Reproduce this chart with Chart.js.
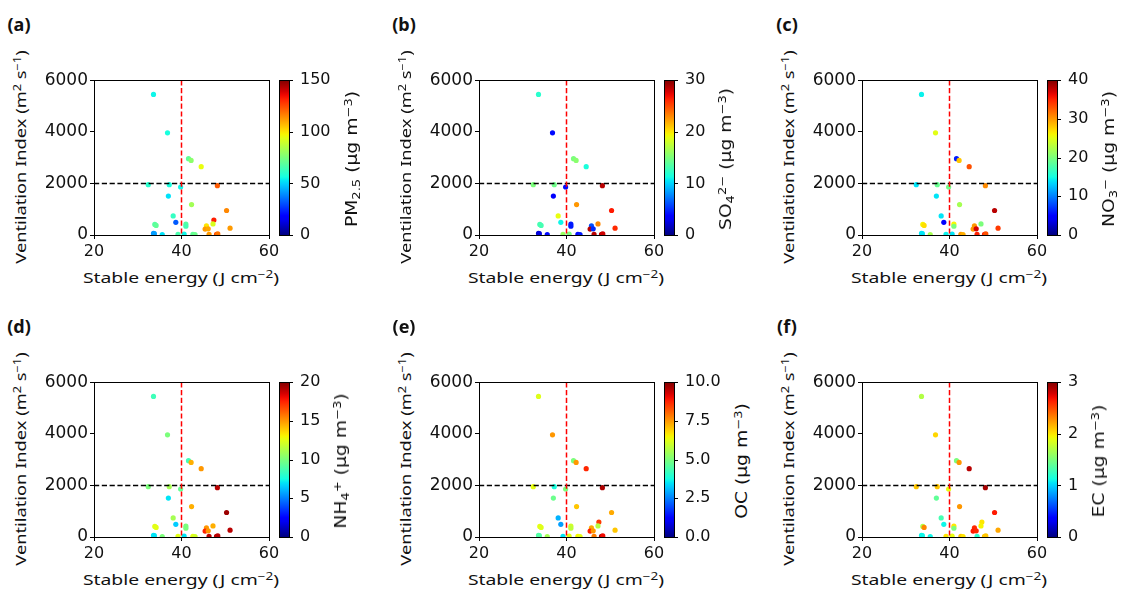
<!DOCTYPE html>
<html>
<head>
<meta charset="utf-8">
<script src="https://cdn.jsdelivr.net/npm/chart.js@4.4.1/dist/chart.umd.min.js"></script>
<style>
  html, body { margin: 0; padding: 0; background: #fff; overflow: hidden; }
  #fig { position: relative; width: 1124px; height: 594px; }
  #fig canvas { position: absolute; }
  .lbl { position: absolute; white-space: nowrap; line-height: 1; color: #111; }
  .lbl sup { font-size: 0.7em; vertical-align: 0.5em; line-height: 0; }
  .lbl sub { font-size: 0.7em; vertical-align: -0.25em; line-height: 0; }
</style>
</head>
<body>
<div id="fig"></div>
<script>
// one entry per day: stable energy (J cm-2) and ventilation index (m2 s-1)
var energy = [33.6, 36.8, 41.6, 42.2, 44.5, 32.4, 37.2, 39.8, 48.2, 37.0, 42.3, 50.3, 38.1, 47.4, 38.7, 33.9, 34.2,
              41.0, 41.0, 45.7, 47.2, 45.4, 46.1, 51.1, 33.6, 33.8, 35.6, 39.2, 40.6, 42.6, 43.1, 46.3, 48.0, 48.3];
var ventIndex = [5450, 3960, 2960, 2890, 2650, 1950, 1950, 1860, 1910, 1510, 1180, 950, 740, 580, 490, 410, 370,
                 420, 340, 350, 430, 230, 240, 265, 60, 50, 20, 30, 35, 30, 20, 30, 30, 40];

// concentrations (ug m-3), null = missing
var pm25 = [55, 57, 70, 78, 95, 60, 57, 55, 122, 52, 82, 115, 62, 132, 32, 68, 70,
            68, 65, 100, 92, 112, 110, 112, 40, 42, 52, 66, 55, 70, 72, 112, 125, 118];
var so4 = [12, 4, 15, 15.5, 11.5, 15, 14.5, 4, 28.5, 3.5, 22.5, 26.5, 19, null, 11, 13, 13,
           4.5, 4.5, 6, 23, 28.5, 5, 26, 2, 2.5, 4, 16, 15, 4, 4.5, 28.5, 28.5, 28];
var no3 = [14.5, 25, 6, 28, 33, 14, 19, 19.5, 30.5, 14, 22, 38, 14, null, 5, 26, 27,
           26, 20, 30, 20, 30, 37, 34, 14, 14, 22, 14.5, 14, 30, 29, 35, 35, 33];
var nh4 = [8.5, 10, 8.5, 14.5, 15, 10, 11, 9.5, 19, 7, 14.5, 19.5, 11, null, 6.5, 12.5, 12.5,
           10, 10, 15, 14.5, 17.5, 15, 19, 7, 7, 10, 12.5, 7, 12.5, 12, 19, 19, 19];
var oc = [6.2, 7.5, 5, 7.5, 8.7, 6.3, 3.8, 5, 9.6, 4.8, 7, 7.3, 3, 8.5, 2.8, 6.3, 6.2,
          6, 5.8, 7.3, 5.7, 8.8, 7.5, 7, 4.5, 4.5, 5.5, 3.5, 6.3, 6.5, 6.3, 7.8, 9.7, 9];
var ec = [1.7, 2.05, 1.5, 2.25, 2.85, 2.1, 2.1, 1.9, 2.9, 1.4, 2.25, 2.65, 1.3, 2.0, 1.1, 1.7, 2.3,
          2.0, 1.5, 2.6, 1.95, 2.65, 2.6, 2.2, 1.1, 1.1, 1.1, 2.0, 1.9, 2.1, 2.0, 1.2, 2.1, 2.1];

var species = [pm25, so4, no3, nh4, oc, ec];
var panelLetters = ['(a)', '(b)', '(c)', '(d)', '(e)', '(f)'];
var cbLabels = ['PM<sub>2.5</sub> (μg m<sup>−3</sup>)', 'SO<sub>4</sub><sup>2−</sup> (μg m<sup>−3</sup>)',
                'NO<sub>3</sub><sup>−</sup> (μg m<sup>−3</sup>)', 'NH<sub>4</sub><sup>+</sup> (μg m<sup>−3</sup>)',
                'OC (μg m<sup>−3</sup>)', 'EC (μg m<sup>−3</sup>)'];
var cbMax = [150, 30, 40, 20, 10, 3];
var cbStep = [50, 10, 10, 5, 2.5, 1];
var cbDecimals = [0, 0, 0, 0, 1, 0];
var xRange = [20, 60], xStep = 20;
var yRange = [0, 6000], yStep = 2000;
var refEnergy = 40, refVent = 2000;

var colLeft = [94, 479, 862];
var rowTop = [80, 382];
var tickFont = { family: 'DejaVu Sans', size: 16 };
var yTickFont = { family: 'DejaVu Sans', size: 17 };
var fig = document.getElementById('fig');

// matplotlib jet colormap
function jet(t) {
  t = Math.min(1, Math.max(0, t));
  function seg(p) {
    for (var i = 1; i < p.length; i++) {
      if (t <= p[i][0]) return p[i - 1][1] + (p[i][1] - p[i - 1][1]) * (t - p[i - 1][0]) / (p[i][0] - p[i - 1][0]);
    }
    return p[p.length - 1][1];
  }
  var r = seg([[0, 0], [0.35, 0], [0.66, 1], [0.89, 1], [1, 0.5]]);
  var g = seg([[0, 0], [0.125, 0], [0.375, 1], [0.64, 1], [0.91, 0], [1, 0]]);
  var b = seg([[0, 0.5], [0.11, 1], [0.34, 1], [0.65, 0], [1, 0]]);
  return 'rgb(' + Math.round(r * 255) + ',' + Math.round(g * 255) + ',' + Math.round(b * 255) + ')';
}

var framePlugin = {
  id: 'frame',
  afterDatasetsDraw: function (chart) {
    var ctx = chart.ctx, a = chart.chartArea, s = chart.scales;
    ctx.save();
    ctx.lineWidth = 1.5;
    ctx.setLineDash([5.2, 2.6]);
    ctx.strokeStyle = '#000';
    var yr = s.y.getPixelForValue(refVent);
    ctx.beginPath(); ctx.moveTo(a.left, yr); ctx.lineTo(a.right, yr); ctx.stroke();
    ctx.strokeStyle = '#f00';
    var xr = s.x.getPixelForValue(refEnergy);
    ctx.beginPath(); ctx.moveTo(xr, a.top); ctx.lineTo(xr, a.bottom); ctx.stroke();
    ctx.restore();
  },
  afterDraw: function (chart) {
    var ctx = chart.ctx, a = chart.chartArea, cb = chart.scales.cb;
    ctx.save();
    ctx.strokeStyle = '#000';
    ctx.lineWidth = 1;
    ctx.strokeRect(Math.round(a.left) + 0.5, Math.round(a.top) + 0.5, Math.round(a.right - a.left), Math.round(a.bottom - a.top));
    // colour bar
    var x0 = Math.round(a.right) + 10, w = 10;
    var yTop = Math.round(cb.getPixelForValue(cb.max)), yBot = Math.round(cb.getPixelForValue(cb.min));
    var grad = ctx.createLinearGradient(0, yBot, 0, yTop);
    for (var k = 0; k <= 40; k++) grad.addColorStop(k / 40, jet(k / 40));
    ctx.fillStyle = grad;
    ctx.fillRect(x0, yTop, w, yBot - yTop);
    ctx.strokeRect(x0 + 0.5, yTop + 0.5, w, yBot - yTop);
    cb.ticks.forEach(function (t) {
      var y = Math.round(cb.getPixelForValue(t.value)) + 0.5;
      ctx.beginPath(); ctx.moveTo(x0 + w, y); ctx.lineTo(x0 + w + 4, y); ctx.stroke();
    });
    ctx.restore();
  }
};

function addLabel(html, cx, cy, font, rot, len, k) {
  var el = document.createElement('div');
  el.className = 'lbl';
  el.innerHTML = html;
  el.style.font = font;
  fig.appendChild(el);
  if (len) k = len / el.offsetWidth;
  el.style.left = cx + 'px';
  el.style.top = cy + 'px';
  el.style.transform = 'translate(-50%,-50%) rotate(' + rot + 'deg) scaleX(' + k + ')';
  return { k: k, h: el.offsetHeight, el: el };
}

var measure = document.createElement('canvas').getContext('2d');
measure.font = tickFont.size + 'px ' + tickFont.family;
var cbK = null;

species.forEach(function (vals, i) {
  var L = colLeft[i % 3], T = rowTop[Math.floor(i / 3)];
  var canvas = document.createElement('canvas');
  canvas.width = 310; canvas.height = 190;
  canvas.style.left = (L - 60) + 'px';
  canvas.style.top = (T - 12) + 'px';
  fig.appendChild(canvas);

  var pts = [], cols = [];
  vals.forEach(function (v, k) {
    if (v === null) return;
    pts.push({ x: energy[k], y: ventIndex[k] });
    cols.push(jet(v / cbMax[i]));
  });

  new Chart(canvas, {
    type: 'scatter',
    data: { datasets: [{ data: pts, pointBackgroundColor: cols, pointBorderWidth: 0,
                         pointRadius: 2.6, pointHoverRadius: 2.6, clip: 0 }] },
    options: {
      responsive: false, animation: false, events: [],
      layout: { padding: { top: 12, left: 0, right: 0, bottom: 0 } },
      plugins: { legend: { display: false }, tooltip: { enabled: false } },
      scales: {
        x: { type: 'linear', min: xRange[0], max: xRange[1],
             ticks: { stepSize: xStep, font: tickFont, color: '#111', padding: 3, maxRotation: 0 },
             grid: { drawOnChartArea: false, tickLength: 4, color: '#000' }, border: { display: false },
             afterFit: function (s) { s.height = 23; } },
        y: { type: 'linear', position: 'left', min: yRange[0], max: yRange[1],
             ticks: { stepSize: yStep, font: yTickFont, color: '#111', padding: 2, callback: function (v) { return String(v); } },
             grid: { drawOnChartArea: false, tickLength: 4, color: '#000' }, border: { display: false },
             afterFit: function (s) { s.width = 60; } },
        cb: { type: 'linear', axis: 'y', position: 'right', min: 0, max: cbMax[i],
              ticks: { stepSize: cbStep[i], font: tickFont, color: '#111', padding: 2,
                       callback: function (v) { return v.toFixed(cbDecimals[i]); } },
              grid: { display: true, drawOnChartArea: false, drawTicks: true, tickLength: 29, color: 'rgba(0,0,0,0)' },
              border: { display: false },
              afterFit: function (s) { s.width = 75; } }
      }
    },
    plugins: [framePlugin]
  });

  // labels
  addLabel(panelLetters[i], L - 75, T - 56, 'bold 18px "Noto Sans"', 0, 0, 1);
  addLabel('Ventilation Index (m<sup>2</sup> s<sup>−1</sup>)', L - 74, T + 77, '15px "Noto Sans"', -90, 213);
  addLabel('Stable energy (J cm<sup>−2</sup>)', L + 87, T + 197, '15px "Noto Sans"', 0, 196);

  var widest = 0;
  for (var v = 0; v <= cbMax[i] + 1e-9; v += cbStep[i]) {
    widest = Math.max(widest, measure.measureText(v.toFixed(cbDecimals[i])).width);
  }
  var r = i === 0 ? addLabel(cbLabels[i], 0, 0, '15px "DejaVu Sans"', -90, 136)
                  : addLabel(cbLabels[i], 0, 0, '15px "DejaVu Sans"', -90, 0, cbK);
  if (i === 0) cbK = r.k;
  r.el.style.left = (L + 206 + widest + 12 + r.h / 2) + 'px';
  r.el.style.top = (T + 79) + 'px';
});
</script>
</body>
</html>
